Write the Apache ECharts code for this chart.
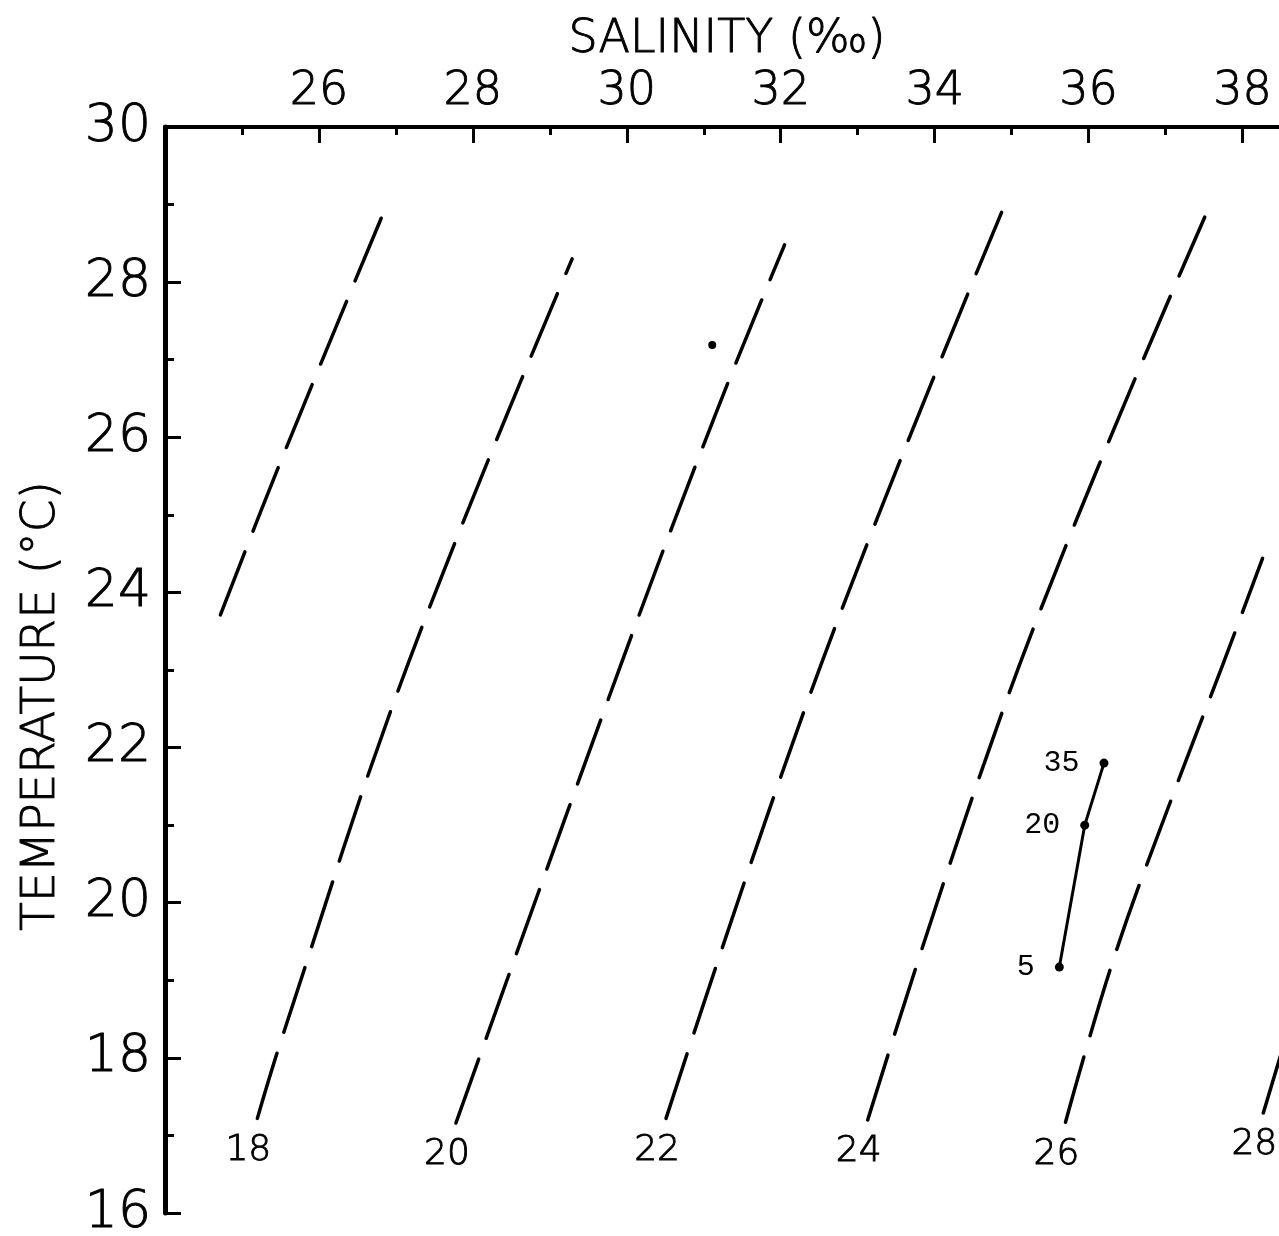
<!DOCTYPE html>
<html>
<head>
<meta charset="utf-8">
<script src="https://cdn.jsdelivr.net/npm/echarts@6/dist/echarts.min.js"></script>
<style>
  html, body { margin: 0; padding: 0; background: #fff; }
  #main { width: 1279px; height: 1236px; }
</style>
</head>
<body>
<div id="main"></div>
<script>
var chart = echarts.init(document.getElementById('main'));

// sigma-t isopycnals, points from bottom to top
var sigmaLevels = [16, 18, 20, 22, 24, 26, 28];
var sig16Sal = [24.72, 25.50, 26.82];
var sig16Temp = [23.71, 25.68, 28.85];
var sig18Sal = [25.20, 25.52, 27.15, 29.29];
var sig18Temp = [17.22, 18.26, 23.06, 28.30];
var sig20Sal = [27.78, 29.92, 31.15, 32.05];
var sig20Temp = [17.16, 23.06, 26.29, 28.48];
var sig22Sal = [30.51, 32.52, 34.87];
var sig22Temp = [17.22, 23.06, 28.90];
var sig24Sal = [33.13, 35.10, 37.51];
var sig24Temp = [17.20, 23.06, 28.84];
var sig26Sal = [35.70, 36.33, 37.07, 37.74, 38.26];
var sig26Temp = [17.17, 19.29, 21.32, 23.06, 24.44];
var sig28Sal = [38.27, 38.50];
var sig28Temp = [17.29, 18.05];

var isoSal = [sig16Sal, sig18Sal, sig20Sal, sig22Sal, sig24Sal, sig26Sal, sig28Sal];
var isoTemp = [sig16Temp, sig18Temp, sig20Temp, sig22Temp, sig24Temp, sig26Temp, sig28Temp];

// station profile, depth in m
var depthLabels = ['5', '20', '35'];
var profileSal = [35.62, 35.95, 36.20];
var profileTemp = [19.17, 21.00, 21.80];

// single surface point
var pointSal = [31.11];
var pointTemp = [27.19];

var salTicks = [26, 28, 30, 32, 34, 36, 38];
var tempTicks = [16, 18, 20, 22, 24, 26, 28, 30];

var FONT = "'DejaVu Sans'";
var txt = { color: '#000', fontFamily: FONT, fontWeight: 200, textBorderColor: '#000', textBorderWidth: 0.9 };

function pairs(xs, ys) {
    return xs.map(function (x, i) { return [x, ys[i]]; });
}

var series = [];
for (var i = 0; i < sigmaLevels.length; i++) {
    series.push({
        type: 'line',
        data: pairs(isoSal[i], isoTemp[i]),
        symbol: 'none',
        smooth: 0.4,
        silent: true,
        lineStyle: { color: '#000', width: 3.5, type: [68, 22], cap: 'round' }
    });
}

// sigma labels under the bottom end of each line that reaches the bottom
var labelData = [];
for (var k = 0; k < sigmaLevels.length; k++) {
    if (sigmaLevels[k] < 18) continue;
    labelData.push({ name: String(sigmaLevels[k]), value: [isoSal[k][0], isoTemp[k][0]] });
}
series.push({
    type: 'scatter',
    data: labelData,
    symbolSize: 0,
    silent: true,
    itemStyle: { color: '#000', opacity: 1 },
    label: Object.assign({
        show: true, position: 'bottom', distance: 12, offset: [-9, 2],
        formatter: '{b}', fontSize: 36
    }, txt)
});

series.push({
    type: 'line',
    data: pairs(profileSal, profileTemp),
    symbol: 'circle',
    symbolSize: 9,
    silent: true,
    itemStyle: { color: '#000' },
    lineStyle: { color: '#000', width: 3 },
    label: {
        show: true, position: 'left', distance: 20,
        formatter: function (p) { return depthLabels[p.dataIndex]; },
        color: '#000', fontSize: 30, fontFamily: "'Liberation Mono'"
    }
});

series.push({
    type: 'scatter',
    data: pairs(pointSal, pointTemp),
    symbolSize: 8,
    silent: true,
    itemStyle: { color: '#000', opacity: 1 }
});

var option = {
    backgroundColor: '#fff',
    animation: false,
    grid: { left: 165, top: 127, width: 1116, height: 1086, outerBoundsMode: 'none' },
    xAxis: [{
        type: 'value', position: 'top', min: 24, max: 38.5, interval: 2,
        axisLine: { onZero: false, lineStyle: { color: '#000', width: 4 } },
        axisTick: { inside: true, length: 16, lineStyle: { color: '#000', width: 3 } },
        axisLabel: Object.assign({
            margin: 12, fontSize: 46, showMaxLabel: false,
            formatter: function (v) { return salTicks.indexOf(v) >= 0 ? String(v) : ''; }
        }, txt),
        splitLine: { show: false }
    }, {
        type: 'value', position: 'top', min: 24, max: 38.5, interval: 1,
        axisLine: { show: false },
        axisTick: { inside: true, length: 8, lineStyle: { color: '#000', width: 3 } },
        axisLabel: { show: false },
        splitLine: { show: false }
    }],
    yAxis: {
        type: 'value', min: 16, max: 30, interval: 2,
        axisLine: { show: true, onZero: false, lineStyle: { color: '#000', width: 5 } },
        axisTick: { inside: true, length: 16, lineStyle: { color: '#000', width: 3 } },
        minorTick: { show: true, splitNumber: 2, length: 9, lineStyle: { color: '#000', width: 3 } },
        axisLabel: Object.assign({
            margin: 14, fontSize: 52,
            formatter: function (v) { return tempTicks.indexOf(v) >= 0 ? String(v) : ''; }
        }, txt),
        splitLine: { show: false },
        minorSplitLine: { show: false }
    },
    graphic: [{
        type: 'text', x: 727, y: 40,
        style: {
            text: 'SALINITY (‰)', fill: '#000', stroke: '#000', lineWidth: 0.9,
            fontSize: 46, fontFamily: FONT, fontWeight: 200,
            align: 'center', verticalAlign: 'middle'
        }
    }, {
        type: 'text', x: 42, y: 706, rotation: Math.PI / 2,
        style: {
            text: 'TEMPERATURE (°C)', fill: '#000', stroke: '#000', lineWidth: 0.9,
            fontSize: 47, fontFamily: FONT, fontWeight: 200,
            align: 'center', verticalAlign: 'middle'
        }
    }],
    series: series
};

chart.setOption(option);
</script>
</body>
</html>
